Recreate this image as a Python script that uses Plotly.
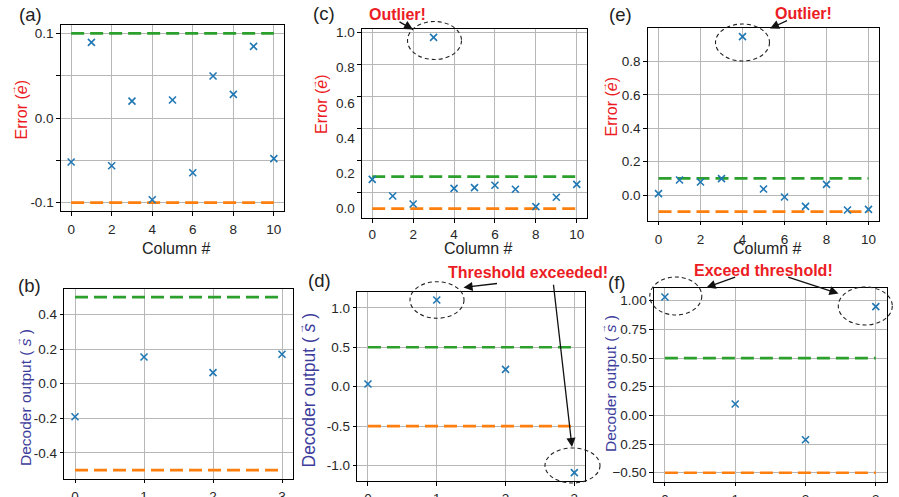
import plotly.graph_objects as go

# ---------------- data ----------------
cols_top = list(range(11))
err_a = [-0.052, 0.0895, -0.0565, 0.020, -0.0967, 0.0213, -0.0647, 0.0497, 0.028, 0.0847, -0.048]
err_c = [0.083, -0.021, -0.071, 0.969, 0.027, 0.031, 0.046, 0.021, -0.087, -0.029, 0.052]
err_e = [0.008, 0.090, 0.078, 0.098, 0.950, 0.036, -0.012, -0.068, 0.064, -0.090, -0.086]
err_upper = 0.1
err_lower = -0.1

cols_bot = [0, 1, 2, 3]
dec_b = [-0.191, 0.154, 0.064, 0.170]
dec_d = [0.034, 1.099, 0.220, -1.091]
dec_f = [1.032, 0.099, -0.212, 0.948]
dec_upper = 0.5
dec_lower = -0.5

top_xticks = [0, 2, 4, 6, 8, 10]
bot_xticks = [0, 1, 2, 3]

a_yticks = [-0.1, -0.05, 0.0, 0.05, 0.1]
a_ytext = ["-0.1", "", "0.0", "", "0.1"]
c_grid = [0.0, 0.2, 0.4, 0.6, 0.8, 1.0]
c_labels = [0.0, 0.2, 0.4, 0.6, 0.8, 1.0]
c_labeltext = ["0.0", "0.2", "0.4", "0.6", "0.8", "1.0"]
e_yticks = [0.0, 0.2, 0.4, 0.6, 0.8]
e_ytext = ["0.0", "0.2", "0.4", "0.6", "0.8"]
b_yticks = [-0.4, -0.2, 0.0, 0.2, 0.4]
b_ytext = ["-0.4", "-0.2", "0.0", "0.2", "0.4"]
d_yticks = [-1.0, -0.5, 0.0, 0.5, 1.0]
d_ytext = ["-1.0", "-0.5", "0.0", "0.5", "1.0"]
f_yticks = [-0.5, -0.25, 0.0, 0.25, 0.5, 0.75, 1.0]
f_ytext = ["\u22120.50", "0.25", "0.00", "0.25", "0.50", "0.75", "1.00"]

# ---------------- styling ----------------
W, H = 899, 497
FONT = "Liberation Sans, Arial, sans-serif"
BLUE = "#1f77b4"
GREEN = "#2ca02c"
ORANGE = "#ff7f0e"
RED = "#ec1c24"
NAVY = "#3d3d9c"
GRID = "#b7b7b7"
TICKC = "#262626"


def fx(p):
    return p / W


def fy(p):
    return 1 - p / H


panels = {
    # name: (xaxis id, yaxis id, x px range, y px range, x tick label standoff)
    "a": ("x", "y", (61, 284), (25, 211), 2),
    "c": ("x2", "y2", (362, 587), (28.7, 218.3), 0),
    "e": ("x3", "y3", (648, 879), (28.3, 220.7), 2),
    "b": ("x4", "y4", (64.3, 292.7), (289, 478.7), 1),
    "d": ("x5", "y5", (357.3, 585), (291.7, 481), 1),
    "f": ("x6", "y6", (654, 886.7), (287.7, 481.7), 1),
}

series = {
    "a": (cols_top, err_a, err_upper, err_lower),
    "c": (cols_top, err_c, err_upper, err_lower),
    "e": (cols_top, err_e, err_upper, err_lower),
    "b": (cols_bot, dec_b, dec_upper, dec_lower),
    "d": (cols_bot, dec_d, dec_upper, dec_lower),
    "f": (cols_bot, dec_f, dec_upper, dec_lower),
}

fig = go.Figure()
for name, (xa, ya, _, _, _) in panels.items():
    xs, ys, up, lo = series[name]
    fig.add_trace(go.Scatter(x=[xs[0], xs[-1]], y=[up, up], mode="lines",
                             line=dict(color=GREEN, width=2.7, dash="13px,6px"),
                             xaxis=xa, yaxis=ya, showlegend=False, hoverinfo="skip"))
    fig.add_trace(go.Scatter(x=[xs[0], xs[-1]], y=[lo, lo], mode="lines",
                             line=dict(color=ORANGE, width=2.7, dash="13px,6px"),
                             xaxis=xa, yaxis=ya, showlegend=False, hoverinfo="skip"))
    fig.add_trace(go.Scatter(x=xs, y=ys, mode="markers",
                             marker=dict(symbol="x-thin", size=7,
                                         line=dict(color=BLUE, width=1.6)),
                             xaxis=xa, yaxis=ya, showlegend=False))

# invisible trace to make overlay label axis of panel (c) render
fig.add_trace(go.Scatter(x=[None], y=[None], xaxis="x2", yaxis="y7",
                         showlegend=False, hoverinfo="skip"))

base_axis = dict(showline=True, linecolor="black", linewidth=1.3, mirror=True,
                 ticks="outside", ticklen=3.5, tickwidth=1, tickcolor="black",
                 showgrid=True, gridcolor=GRID, gridwidth=1, zeroline=False,
                 automargin=False,
                 tickfont=dict(family=FONT, size=13.5, color=TICKC), tickmode="array")

y_ranges = {
    "a": [-0.11, 0.11],
    "c": [-0.160, 1.023],
    "e": [-0.154, 1.0],
    "b": [-0.549, 0.547],
    "d": [-1.197, 1.205],
    "f": [-0.578, 1.113],
}
top_xrange = [-0.5, 10.5]
bot_xrange = [-0.155, 3.155]

ytick_info = {
    "a": (a_yticks, a_ytext),
    "c": (c_grid, [""] * len(c_grid)),
    "e": (e_yticks, e_ytext),
    "b": (b_yticks, b_ytext),
    "d": (d_yticks, d_ytext),
    "f": (f_yticks, f_ytext),
}

layout = {}
for name, (xa, ya, (x0, x1), (y0, y1), stand) in panels.items():
    xkey = "xaxis" + xa[1:]
    ykey = "yaxis" + ya[1:]
    is_top = name in ("a", "c", "e")
    xa_d = dict(base_axis)
    xa_d.update(domain=[fx(x0), fx(x1)], anchor=ya,
                range=top_xrange if is_top else bot_xrange,
                tickvals=top_xticks if is_top else bot_xticks,
                ticktext=[str(v) for v in (top_xticks if is_top else bot_xticks)],
                ticklabelstandoff=stand)
    ya_d = dict(base_axis)
    tv, tt = ytick_info[name]
    ya_d.update(domain=[fy(y1), fy(y0)], anchor=xa, range=y_ranges[name],
                tickvals=tv, ticktext=tt)
    if name == "c":
        ya_d.update(showticklabels=False)
    layout[xkey] = xa_d
    layout[ykey] = ya_d

# overlay label axis for panel (c): labels span from lower threshold (0.0) to 1.0
c_lo, c_hi = y_ranges["c"]
span = 1.0 - err_lower
layout["yaxis7"] = dict(overlaying="y2", anchor="x2", side="left",
                        range=[(c_lo - err_lower) / span, (c_hi - err_lower) / span],
                        tickmode="array", tickvals=c_labels, ticktext=c_labeltext,
                        showgrid=False, zeroline=False, showline=False, ticks="outside",
                        ticklen=3.5, tickcolor="rgba(0,0,0,0)", automargin=False,
                        tickfont=dict(family=FONT, size=13.5, color=TICKC))

ann = []


def text_ann(txt, x, y, size, color, angle=0, bold=False, anchor="center"):
    if bold:
        txt = "<b>" + txt + "</b>"
    ann.append(dict(text=txt, x=fx(x), y=fy(y), xref="paper", yref="paper",
                    xanchor=anchor, yanchor="middle", showarrow=False, textangle=angle,
                    font=dict(family=FONT, size=size, color=color)))


# panel letters
for lab, x, y in [("(a)", 17, 15), ("(b)", 16, 285), ("(c)", 311, 14),
                  ("(d)", 306, 280.5), ("(e)", 607, 14.5), ("(f)", 606, 282.5)]:
    text_ann(lab, x, y, 18.5, "#222222", anchor="left")

# x titles
for x in (176, 478, 767):
    text_ann("Column #", x, 248.5, 16, "#222222")

# y titles (vector arrow over the symbol drawn as a small rotated arrow)
err_title = "Error (<i>e</i>)"
dec_title = "Decoder output ( <i>s</i> )"
for x, y, size in [(20.5, 110, 16), (321.5, 104.5, 16), (611, 106.5, 16)]:
    total = 3.722 * size
    e_center = 3.111 * size
    shift = e_center - total / 2
    text_ann(err_title, x, y, size, RED, angle=-90)
    text_ann("\u2192", x - 0.47 * size, y - shift, 0.6 * size, RED, angle=-90)
for x, y, size in [(25.5, 397.5, 15.5), (308, 390.5, 17.5), (610, 384, 15.5)]:
    total = 8.837 * size
    s_center = 7.976 * size
    shift = s_center - total / 2
    text_ann(dec_title, x, y, size, NAVY, angle=-90)
    text_ann("\u2192", x - 0.47 * size, y - shift, 0.6 * size, NAVY, angle=-90)

# red call-outs
text_ann("Outlier!", 397, 15, 16, RED, bold=True)
text_ann("Outlier!", 803, 13.5, 16, RED, bold=True)
text_ann("Threshold exceeded!", 527.5, 272.5, 16, RED, bold=True)
text_ann("Exceed threshold!", 763.7, 270, 16, RED, bold=True)


def arrow(tail, tip):
    ann.append(dict(text="", x=fx(tip[0]), y=fy(tip[1]), xref="paper", yref="paper",
                    ax=tail[0] - tip[0], ay=tail[1] - tip[1], axref="pixel", ayref="pixel",
                    showarrow=True, arrowhead=2, arrowsize=1.4, arrowwidth=1.3,
                    arrowcolor="#111111"))


arrow((398, 21), (413, 29.5))
arrow((788.5, 20), (770, 28.5))
arrow((498.5, 283.3), (463.5, 287.5))
arrow((553.3, 283.3), (572, 447))
arrow((736.7, 276.7), (706.5, 287.5))
arrow((786.7, 276.7), (838.5, 293.5))

shapes = []
for cx, cy, rx, ry in [(434.5, 40.5, 27, 19), (742.5, 42.5, 27, 18.5),
                       (437, 300, 27, 18.3), (572.5, 465.5, 27.5, 17.5),
                       (675.8, 296, 26, 19), (865.3, 306, 27, 19)]:
    shapes.append(dict(type="circle", xref="paper", yref="paper",
                       x0=fx(cx - rx), x1=fx(cx + rx), y0=fy(cy + ry), y1=fy(cy - ry),
                       line=dict(color="#222222", width=1.1, dash="4px,3px"),
                       layer="above"))

fig.update_layout(width=W, height=H,
                  margin=dict(l=0, r=0, t=0, b=0, pad=0, autoexpand=False),
                  paper_bgcolor="white", plot_bgcolor="white",
                  annotations=ann, shapes=shapes, showlegend=False,
                  font=dict(family=FONT), **layout)

fig.write_html("out.html",
               config={"displayModeBar": False},
               post_script="document.body.style.margin='0px';"
                           "document.body.style.padding='0px';"
                           "document.body.style.overflow='hidden';")
